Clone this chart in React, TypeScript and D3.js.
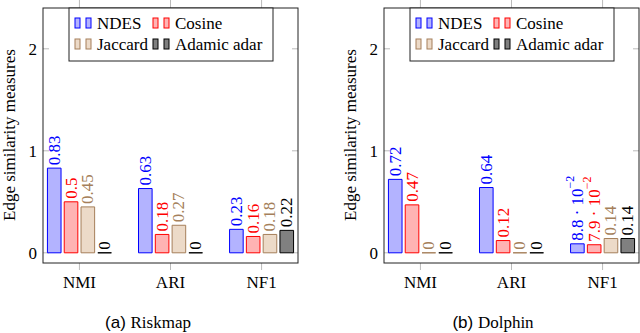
import React, { useEffect, useRef } from 'react';
import * as d3 from 'd3';

// data
const categories = ['NMI', 'ARI', 'NF1'];
const seriesNames = ['NDES', 'Cosine', 'Jaccard', 'Adamic adar'];
const yTicks = [0, 1, 2];

const riskmapNDES = [0.83, 0.63, 0.23];
const riskmapCosine = [0.5, 0.18, 0.16];
const riskmapJaccard = [0.45, 0.27, 0.18];
const riskmapAdamic = [0, 0, 0.22];

const dolphinNDES = [0.72, 0.64, 0.088];
const dolphinCosine = [0.47, 0.12, 0.079];
const dolphinJaccard = [0, 0, 0.14];
const dolphinAdamic = [0, 0, 0.14];

const strokes = ['#0000ff', '#ff0000', '#a57f5a', '#000000'];
const fills = ['#b3b3ff', '#ffb3b3', '#ecdac8', '#808080'];
const textColors = ['#0000ff', '#ff0000', '#a57f5a', '#000000'];

const SERIF = "'Liberation Serif', 'Times New Roman', serif";
const SANS = "'Liberation Sans', Arial, sans-serif";
const FS = 17;

const panels = [
  { tag: '(a)', name: 'Riskmap', left: 43, ylabelX: 15, captionX: 148, series: [riskmapNDES, riskmapCosine, riskmapJaccard, riskmapAdamic] },
  { tag: '(b)', name: 'Dolphin', left: 384, ylabelX: 356, captionX: 493, series: [dolphinNDES, dolphinCosine, dolphinJaccard, dolphinAdamic] },
];

function drawPanel(svg: any, p: any) {
  const top = 8, bottom = 263, w = 255;
  const g = svg.append('g').style('font-family', SERIF);

  const x = d3.scaleLinear().domain([-0.4, 2.4]).range([p.left, p.left + w]);
  const y = d3.scaleLinear().domain([-0.1, 2.4]).range([bottom, top]);
  const inner = d3.scaleBand().domain(seriesNames).range([-32, 32]).paddingInner(0.19);

  // ticks
  categories.forEach((c, i) => {
    g.append('line').attr('x1', x(i)).attr('x2', x(i)).attr('y1', top).attr('y2', 0)
      .attr('stroke', '#aaa').attr('stroke-width', 0.8);
    g.append('line').attr('x1', x(i)).attr('x2', x(i)).attr('y1', bottom).attr('y2', bottom + 7)
      .attr('stroke', '#aaa').attr('stroke-width', 0.8);
    g.append('text').attr('x', x(i)).attr('y', 288).attr('text-anchor', 'middle')
      .attr('font-size', FS).text(c);
  });
  yTicks.forEach((t) => {
    g.append('line').attr('x1', p.left).attr('x2', p.left + 6).attr('y1', y(t)).attr('y2', y(t))
      .attr('stroke', '#aaa').attr('stroke-width', 0.8);
    g.append('line').attr('x1', p.left + w - 6).attr('x2', p.left + w).attr('y1', y(t)).attr('y2', y(t))
      .attr('stroke', '#aaa').attr('stroke-width', 0.8);
    g.append('text').attr('x', p.left - 6).attr('y', y(t)).attr('dy', '0.35em').attr('text-anchor', 'end')
      .attr('font-size', FS).text(t);
  });

  // bars (paths so that zero-height bars still show as a line)
  p.series.forEach((vals: number[], si: number) => {
    const sg = g.append('g');
    const bw = inner.bandwidth();
    sg.selectAll('path').data(vals).enter().append('path')
      .attr('d', (d: number, i: number) => {
        const bx = x(i) + (inner(seriesNames[si]) as number);
        const pth = d3.path();
        pth.rect(bx, y(d), bw, y(0) - y(d));
        return pth.toString();
      })
      .attr('fill', fills[si]).attr('stroke', strokes[si]).attr('stroke-width', 1);

    vals.forEach((v, i) => {
      const cx = x(i) + (inner(seriesNames[si]) as number) + bw / 2;
      const cy = y(v) - 3;
      const t = sg.append('text')
        .attr('transform', `translate(${cx},${cy}) rotate(-90)`)
        .attr('dominant-baseline', 'central')
        .attr('font-size', FS)
        .attr('fill', textColors[si]);
      if (v > 0 && v < 0.1) {
        const exp = Math.floor(Math.log10(v));
        const mant = v / Math.pow(10, exp);
        t.append('tspan').text(`${d3.format('.1f')(mant)} · 10`);
        t.append('tspan').attr('font-size', 12).attr('dy', -7).text(`\u2212${-exp}`);
      } else {
        t.text(String(v));
      }
    });
  });

  // frame
  g.append('rect').attr('x', p.left).attr('y', top).attr('width', w).attr('height', bottom - top)
    .attr('fill', 'none').attr('stroke', '#222').attr('stroke-width', 1);

  // legend
  const lx = p.left + 26, ly = top;
  const lg = g.append('g');
  lg.append('rect').attr('x', lx).attr('y', ly).attr('width', 204).attr('height', 53)
    .attr('fill', 'white').attr('stroke', '#222').attr('stroke-width', 1);
  seriesNames.forEach((s, si) => {
    const col = si % 2, row = Math.floor(si / 2);
    const ex = lx + 6 + col * 78;
    const ey = ly + 10 + row * 21;
    [0, 11].forEach((off) => {
      lg.append('rect').attr('x', ex + off).attr('y', ey).attr('width', 5).attr('height', 10)
        .attr('fill', fills[si]).attr('stroke', strokes[si]).attr('stroke-width', 1);
    });
    lg.append('text').attr('x', ex + 22).attr('y', ey + 11)
      .attr('font-size', FS).text(s);
  });

  // y label
  g.append('text').attr('transform', `translate(${p.ylabelX},135) rotate(-90)`)
    .attr('text-anchor', 'middle').attr('font-size', FS)
    .text('Edge similarity measures');

  // caption
  const cap = g.append('text').attr('x', p.captionX).attr('y', 328).attr('text-anchor', 'middle')
    .attr('font-size', FS);
  cap.append('tspan').style('font-family', SANS).text(p.tag + ' ');
  cap.append('tspan').text(p.name);
}

export default function App() {
  const svgRef = useRef<SVGSVGElement>(null);

  useEffect(() => {
    const svg = d3.select(svgRef.current);
    svg.selectAll('*').remove();
    svg.append('rect').attr('width', 640).attr('height', 333).attr('fill', 'white');
    panels.forEach((p) => drawPanel(svg, p));
  }, []);

  return (
    <svg ref={svgRef} width={640} height={333}
      style={{ position: 'absolute', left: 0, top: 0, display: 'block' }} />
  );
}
